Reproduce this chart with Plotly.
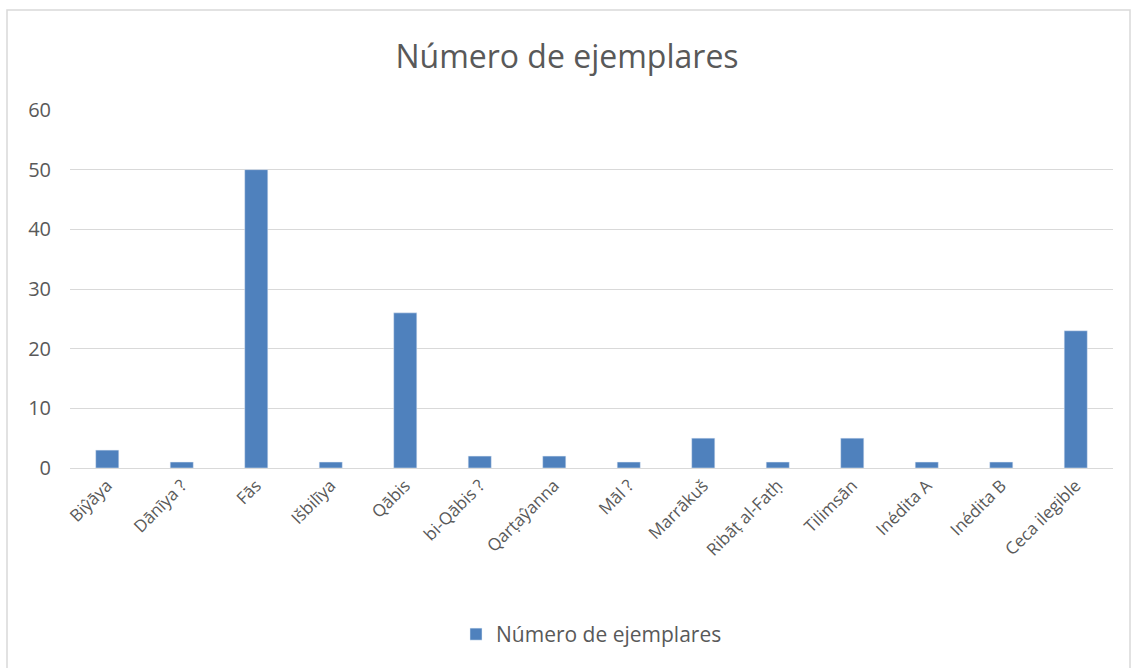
import plotly.graph_objects as go

categories = [
    "Biŷāya", "Dānīya ?", "Fās", "Išbilīya", "Qābis", "bi-Qābis ?",
    "Qarṭaŷanna", "Māl ?", "Marrākuš", "Ribāṭ al-Fatḥ", "Tilimsān",
    "Inédita A", "Inédita B", "Ceca ilegible",
]
ejemplares = [3, 1, 50, 1, 26, 2, 2, 1, 5, 1, 5, 1, 1, 23]
y_ticks = [0, 10, 20, 30, 40, 50, 60]

font_family = "Open Sans, Liberation Sans, sans-serif"
text_color = "rgb(89, 89, 89)"
grid_color = "rgb(217, 217, 217)"

fig = go.Figure()
fig.add_trace(
    go.Bar(
        x=categories,
        y=ejemplares,
        name="Número de ejemplares",
        marker=dict(color="rgb(79, 129, 189)"),
        width=0.31,
    )
)

fig.update_layout(
    width=1134,
    height=668,
    paper_bgcolor="white",
    plot_bgcolor="white",
    margin=dict(l=70, r=21, t=110, b=200),
    title=dict(
        text="Número de ejemplares",
        x=0.5,
        xanchor="center",
        y=0.915,
        yanchor="middle",
        font=dict(family=font_family, size=32, color=text_color),
    ),
    xaxis=dict(
        tickangle=-45,
        tickfont=dict(family=font_family, size=17, color=text_color),
        showgrid=False,
        showline=True,
        linecolor=grid_color,
        linewidth=1,
        ticks="",
    ),
    yaxis=dict(
        range=[0, 60],
        tickvals=y_ticks,
        tickfont=dict(family=font_family, size=20, color=text_color),
        showgrid=True,
        gridcolor=grid_color,
        zeroline=False,
        ticklabelstandoff=18,
    ),
    showlegend=True,
    legend=dict(
        orientation="h",
        x=0.5,
        xanchor="center",
        y=-0.465,
        yanchor="middle",
        itemwidth=30,
        font=dict(family=font_family, size=21, color=text_color),
    ),
    shapes=[
        dict(
            type="rect",
            xref="paper",
            yref="paper",
            x0=-0.0604,
            x1=1.0163,
            y0=-0.62,
            y1=1.279,
            line=dict(color=grid_color, width=1.5),
            fillcolor="rgba(0,0,0,0)",
            layer="below",
        )
    ],
)

fig.write_html(
    "out.html",
    config={"displayModeBar": False},
    post_script="document.body.style.margin='0';",
)
